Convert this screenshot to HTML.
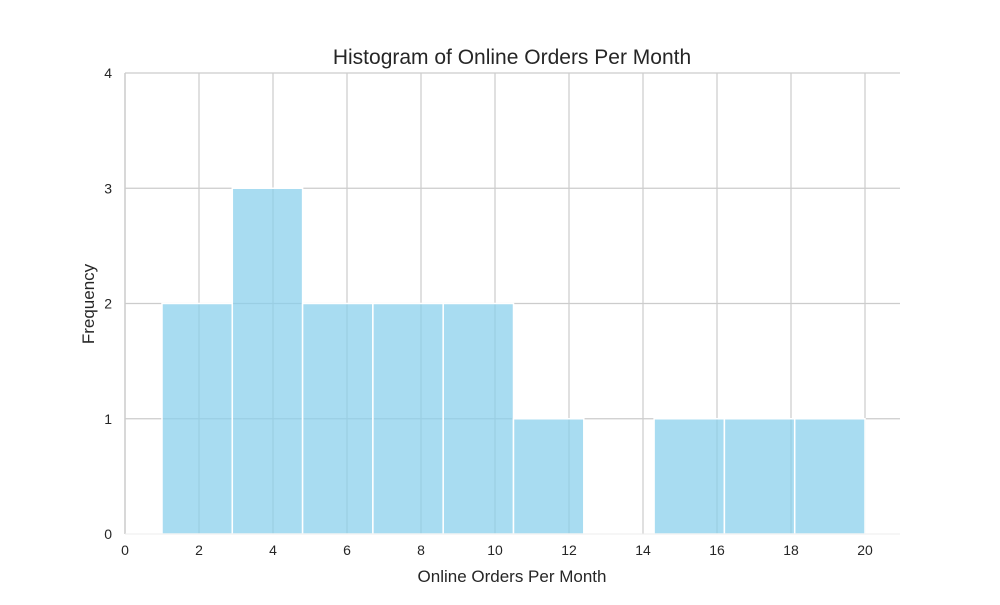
<!DOCTYPE html>
<html><head><meta charset="utf-8"><style>body{margin:0;background:#fff}svg text{font-family:"Liberation Sans",Arial,sans-serif;fill:#262626}</style></head>
<body>
<svg id="chart" width="1000" height="600" xmlns="http://www.w3.org/2000/svg">
<g id="grid"></g><g id="bars"></g><g id="axes"></g>
<text x="512" y="64" text-anchor="middle" font-size="21">Histogram of Online Orders Per Month</text>
<text x="512" y="582" text-anchor="middle" font-size="17">Online Orders Per Month</text>
<text transform="translate(94,304) rotate(-90)" text-anchor="middle" font-size="17">Frequency</text>
</svg>
<script>
const binEdges=[1,2.9,4.8,6.7,8.6,10.5,12.4,14.3,16.2,18.1,20];
const counts=[2,3,2,2,2,1,0,1,1,1];
const xTicks=[0,2,4,6,8,10,12,14,16,18,20];
const yTicks=[0,1,2,3,4];
const NS="http://www.w3.org/2000/svg";
const X=v=>125+v*37, Y=v=>534-v*115.25;
function mk(t,a,p){const e=document.createElementNS(NS,t);for(const k in a)e.setAttribute(k,a[k]);p.appendChild(e);return e;}
const g=document.getElementById('grid'),b=document.getElementById('bars'),ax=document.getElementById('axes');
xTicks.forEach(v=>{if(v>0){const l=mk('line',{x1:X(v),x2:X(v),y1:Y(4),y2:Y(0),stroke:'#cccccc','stroke-width':1.2},g);

}
const t=mk('text',{x:X(v),y:555,'text-anchor':'middle','font-size':14},ax);t.textContent=v;

});
yTicks.forEach(v=>{if(v>0){const l=mk('line',{x1:125,x2:900,y1:Y(v),y2:Y(v),stroke:'#cccccc','stroke-width':1.2},g);

}
const t=mk('text',{x:112,y:Y(v)+5,'text-anchor':'end','font-size':14},ax);t.textContent=v;

});
counts.forEach((c,i)=>{if(c<=0)return;const x0=X(binEdges[i]),x1=X(binEdges[i+1]);
const r=mk('rect',{x:x0,y:Y(c),width:x1-x0,height:Y(0)-Y(c),fill:'rgb(135,206,235)','fill-opacity':0.72,stroke:'#fff','stroke-width':1.5},b);

});
const sp=mk('line',{x1:125,x2:125,y1:Y(4),y2:Y(0),stroke:'#cccccc','stroke-width':1.5},ax);


const bs=mk('line',{x1:125,x2:900,y1:Y(0),y2:Y(0),stroke:'#eeeeee','stroke-width':1},ax);


</script>
</body></html>
